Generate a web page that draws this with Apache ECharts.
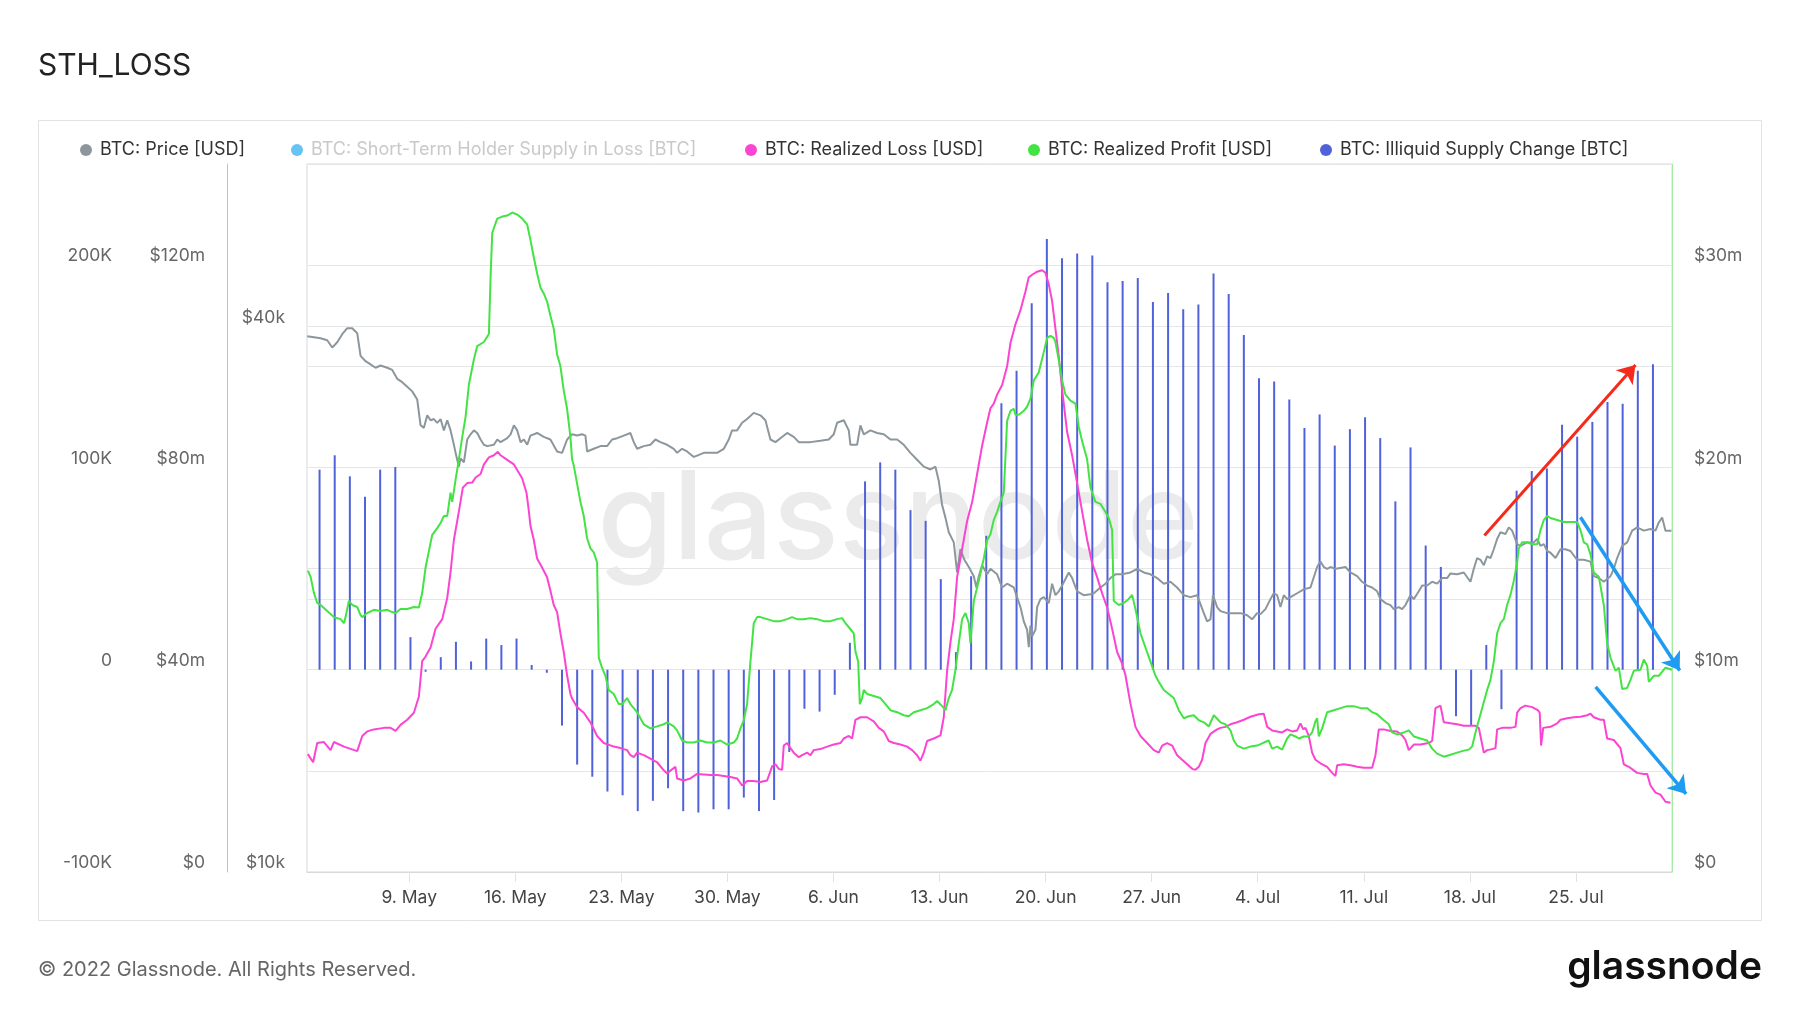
<!DOCTYPE html>
<html><head><meta charset="utf-8">
<script src="https://cdn.jsdelivr.net/npm/echarts@6/dist/echarts.min.js"></script>
<style>html,body{margin:0;padding:0;background:#fff}#c{width:1800px;height:1013px}</style>
</head><body><div id="c"></div>
<script>
// ---------------- DATA ----------------
// Day offsets are measured from 9 May 2022 00:00 (chart local time).
const tickDates = ['2022-05-09','2022-05-16','2022-05-23','2022-05-30','2022-06-06','2022-06-13','2022-06-20','2022-06-27','2022-07-04','2022-07-11','2022-07-18','2022-07-25'];
const tickLabels = ['9. May','16. May','23. May','30. May','6. Jun','13. Jun','20. Jun','27. Jun','4. Jul','11. Jul','18. Jul','25. Jul'];
const xRangeDays = [-6.745, 83.34];

// BTC: Price [USD], in $k : [dayOffset, price]
const priceK = [[-6.73,39.0],[-6.29,38.9],[-5.85,38.8],[-5.41,38.6],[-5.08,37.9],[-4.75,38.4],[-4.42,39.2],[-4.09,39.8],[-3.76,39.8],[-3.43,39.3],[-3.21,37.1],[-2.88,36.6],[-2.55,36.3],[-2.22,36.0],[-1.89,36.2],[-1.45,36.0],[-1.12,35.8],[-0.79,35.0],[-0.46,34.7],[-0.13,34.3],[0.20,33.9],[0.53,33.2],[0.75,31.1],[0.97,30.9],[1.19,31.9],[1.41,31.5],[1.63,31.6],[1.85,31.3],[2.07,31.6],[2.29,30.7],[2.51,31.5],[2.73,30.7],[2.95,29.6],[3.06,29.0],[3.28,28.0],[3.39,28.6],[3.61,28.3],[3.83,30.0],[4.05,30.4],[4.27,30.7],[4.49,30.5],[4.71,30.0],[4.93,29.6],[5.15,29.5],[5.59,29.6],[5.81,30.0],[6.03,29.8],[6.47,30.1],[6.69,30.4],[6.91,31.1],[7.13,30.7],[7.35,29.8],[7.57,30.0],[7.79,29.6],
[8.0,30.3],[8.44,30.5],[8.88,30.2],[9.32,30.0],[9.76,29.1],[10.09,29.0],[10.42,30.0],[10.75,30.4],[11.08,30.3],[11.41,30.4],[11.63,30.3],[11.74,29.1],[12.18,29.3],[12.62,29.5],[13.06,29.5],[13.39,30.0],[13.72,30.1],[14.16,30.3],[14.60,30.5],[14.82,29.8],[15.04,29.3],[15.48,29.5],[15.92,29.6],[16.25,30.0],[16.58,29.8],[17.02,29.6],[17.46,29.3],[17.68,29.0],[18.01,29.3],[18.34,29.1],[18.78,28.7],[19.0,28.8],[19.44,29.0],[19.88,29.0],[20.32,29.0],[20.76,29.3],[21.09,30.0],[21.31,30.7],[21.64,30.7],[21.97,31.3],[22.30,31.6],[22.74,32.1],
[23.18,31.9],[23.51,31.5],[23.84,30.0],[24.17,29.8],[24.50,30.1],[24.94,30.5],[25.38,30.2],[25.71,29.8],[26.04,29.8],[26.48,29.8],[27.14,29.9],[27.69,30.0],[28.02,30.4],[28.24,31.3],[28.68,31.5],[29.01,30.7],[29.12,29.6],[29.56,29.6],[29.78,31.1],[30.0,30.4],[30.44,30.7],[30.88,30.5],[31.32,30.4],[31.76,30.0],[32.20,30.0],[32.64,29.6],[33.08,29.0],[33.52,28.5],[33.96,28.0],[34.40,27.8],[34.73,28.0],[34.95,27.0],[35.17,25.4],[35.39,24.6],[35.61,23.7],[35.94,23.1],[36.16,21.4],[36.38,22.7],[36.64,22.1],[36.93,21.7],[37.26,21.2],[37.43,20.6],[37.59,21.2],[37.81,21.8],[38.14,21.3],
[38.36,21.6],[38.80,21.3],[39.13,20.6],[39.46,20.8],[39.90,20.6],[40.34,19.6],[40.56,18.9],[40.78,18.5],[40.89,17.7],[41.0,18.7],[41.11,18.2],[41.33,18.5],[41.44,19.6],[41.66,20.0],[41.88,20.1],[42.21,19.8],[42.43,20.8],[42.65,20.2],[42.87,20.4],[43.09,20.7],[43.53,21.4],[43.75,21.1],[44.08,20.4],[44.52,20.2],[44.96,20.25],[45.18,20.3],[45.62,20.6],[45.95,20.8],[46.28,21.1],[46.61,21.3],[47.05,21.3],[47.60,21.4],[48.04,21.6],[48.48,21.4],[48.92,21.3],[49.36,21.1],[49.80,20.8],[50.24,20.9],[50.68,20.6],[51.12,20.2],[51.56,20.1],[52.0,20.2],[52.44,19.3],[52.66,18.9],[52.88,19.0],[53.05,20.2],[53.32,19.6],
[53.54,19.4],[53.98,19.3],[54.42,19.3],[54.86,19.3],[55.30,19.2],[55.63,19.0],[55.96,19.3],[56.18,19.25],[56.51,19.5],[56.84,20.0],[57.06,20.3],[57.28,20.2],[57.50,19.6],[57.72,20.2],[57.94,20.0],[58.16,20.1],[58.60,20.3],[59.04,20.5],[59.48,20.6],[59.92,21.7],[60.14,22.0],[60.36,21.7],[60.58,21.6],[60.80,21.7],[61.13,21.6],[61.46,21.65],[61.79,21.7],[62.12,21.4],[62.56,21.2],[62.89,20.9],[63.22,20.7],[63.55,20.6],[63.88,20.4],[64.10,20.0],[64.43,19.8],[64.76,19.7],[64.98,19.5],[65.31,19.6],[65.53,19.5],[65.75,19.7],[66.08,20.2],[66.30,20.0],[66.63,20.4],[66.85,20.7],[67.18,20.7],[67.51,20.9],[67.84,20.8],[68.17,21.1],[68.50,21.1],
[68.72,21.35],[69.16,21.3],[69.60,21.4],[70.04,20.9],[70.26,21.6],[70.48,22.2],[70.70,22.1],[70.92,21.8],[71.14,22.3],[71.36,22.2],[71.58,22.7],[71.80,23.3],[72.02,23.7],[72.35,23.6],[72.57,24.0],[72.79,23.8],[73.12,23.0],[73.34,22.9],[73.78,23.1],[74.22,23.1],[74.44,23.3],[74.66,22.9],[74.88,23.0],[75.10,22.6],[75.32,22.5],[75.65,22.2],[75.98,22.7],[76.31,22.7],[76.64,22.6],[77.08,22.1],[77.52,22.1],[77.96,22.0],[78.18,21.2],[78.51,21.1],[78.84,20.9],[79.28,21.2],[79.50,21.6],[79.72,22.2],[80.05,22.9],[80.38,23.1],[80.71,23.8],[81.04,24.0],[81.48,23.8],[81.92,23.9],[82.25,23.8],[82.47,24.3],[82.69,24.6],[82.91,23.8],[83.30,23.8]];

// BTC: Realized Loss [USD], in $m : [dayOffset, loss]
const realizedLossM = [[-6.69,23.3],[-6.34,21.7],[-6.07,25.5],[-5.63,25.7],[-5.30,24.5],[-5.19,24.1],[-4.97,25.7],[-4.31,24.8],[-3.43,23.9],[-3.10,26.9],[-2.77,27.8],[-2.33,28.2],[-1.67,28.5],[-1.23,28.5],[-0.90,27.9],[-0.57,29.1],[-0.13,30.1],[0.31,31.5],[0.64,34.7],[0.86,41.7],[1.08,42.6],[1.41,44.4],[1.74,48.1],[2.18,50.0],[2.51,54.2],[2.73,59.3],[2.95,65.7],[3.28,71.3],[3.54,76.0],[3.83,76.9],[4.16,77.0],[4.38,78.0],[4.71,78.7],[4.93,80.6],[5.26,82.0],[5.59,82.4],[5.85,83.1],[6.03,82.4],[6.47,81.5],[6.91,80.6],[7.46,77.8],[7.74,75.0],[7.90,71.3],
[8.0,68.5],[8.22,65.7],[8.44,62.0],[8.77,60.2],[9.10,58.3],[9.32,55.6],[9.54,52.8],[9.76,51.4],[9.98,47.2],[10.20,43.5],[10.42,38.9],[10.64,35.2],[10.75,34.3],[11.08,32.6],[11.52,31.5],[11.96,29.6],[12.40,26.9],[12.84,25.5],[13.50,24.8],[13.94,24.5],[14.38,24.1],[14.60,23.1],[14.82,22.7],[15.04,23.6],[15.48,23.1],[15.92,22.4],[16.36,21.7],[16.80,20.1],[17.02,19.5],[17.35,20.3],[17.57,20.8],[17.68,18.5],[18.12,18.1],[18.56,18.5],[19.0,19.4],[19.44,19.3],[19.88,19.2],[20.32,19.2],[20.76,19.0],[21.20,18.8],[21.64,18.5],[21.97,17.1],[22.30,18.0],[22.74,18.0],
[23.18,17.8],[23.62,18.1],[23.95,20.9],[24.17,21.3],[24.39,20.4],[24.61,20.2],[24.72,25.0],[24.94,25.5],[25.16,24.5],[25.38,23.6],[25.71,22.7],[25.93,23.1],[26.26,23.6],[26.48,23.1],[26.70,24.1],[27.14,24.3],[27.58,24.8],[28.02,25.2],[28.46,25.5],[28.68,26.4],[29.01,26.9],[29.23,26.4],[29.45,30.1],[29.78,30.6],[30.22,30.6],[30.66,29.8],[30.99,28.5],[31.32,27.8],[31.65,25.9],[31.98,25.5],[32.42,25.2],[32.86,24.8],[33.19,24.1],[33.52,23.1],[33.74,22.0],[33.96,23.6],[34.18,25.9],[34.62,26.4],[35.06,27.0],[35.28,30.6],[35.50,39.8],[35.72,45.4],[35.94,50.0],[36.16,58.3],[36.38,62.0],[36.60,65.7],[36.82,69.4],[37.15,73.1],[37.48,78.7],[37.81,84.3],[38.14,88.9],
[38.36,91.7],[38.58,92.6],[38.80,94.4],[39.13,96.3],[39.46,100.0],[39.68,104.6],[40.01,108.3],[40.34,111.1],[40.67,114.8],[40.89,117.6],[41.11,118.1],[41.44,118.7],[41.77,119.0],[41.99,118.5],[42.21,116.2],[42.43,112.9],[42.65,107.4],[42.87,101.9],[43.09,95.4],[43.42,87.0],[43.75,82.4],[44.08,76.9],[44.41,71.3],[44.74,65.7],[45.07,61.1],[45.40,58.3],[45.73,55.1],[46.06,52.3],[46.39,48.1],[46.72,43.5],[47.05,41.2],[47.27,38.9],[47.60,33.3],[47.93,28.7],[48.26,26.9],[48.70,25.5],[49.14,24.1],[49.47,23.6],[49.69,25.0],[50.02,25.5],[50.35,25.0],[50.68,23.1],[51.01,22.2],[51.34,21.3],[51.67,20.4],[51.89,20.2],[52.11,20.8],[52.33,22.2],[52.55,25.5],[52.88,27.3],[53.32,28.2],
[53.54,28.5],[53.87,28.7],[54.20,29.2],[54.64,29.6],[55.08,30.1],[55.52,30.7],[56.07,31.2],[56.40,31.3],[56.62,28.7],[56.95,28.0],[57.28,27.8],[57.61,27.6],[57.94,28.2],[58.27,27.8],[58.60,28.0],[58.82,29.4],[59.00,28.2],[59.15,28.5],[59.37,26.9],[59.59,23.6],[59.81,22.2],[60.14,21.5],[60.58,20.8],[60.91,19.6],[61.13,19.0],[61.24,21.1],[61.68,21.3],[62.12,21.1],[62.56,20.8],[63.00,20.6],[63.55,20.6],[63.77,23.1],[63.99,28.2],[64.32,28.2],[64.76,27.9],[65.20,27.8],[65.53,27.0],[65.75,26.1],[65.97,24.1],[66.30,25.2],[66.74,25.2],[67.29,25.5],[67.51,25.9],[67.73,32.4],[68.06,32.9],[68.28,29.6],
[68.72,29.4],[69.16,29.2],[69.60,28.9],[70.04,28.9],[70.37,28.9],[70.59,28.5],[70.70,26.9],[70.92,23.6],[71.14,24.1],[71.47,24.3],[71.69,24.5],[71.80,28.2],[72.13,28.5],[72.68,28.5],[73.01,28.7],[73.12,31.5],[73.34,32.4],[73.67,32.9],[74.11,32.6],[74.48,32.0],[74.61,31.5],[74.70,25.0],[74.84,28.5],[75.32,28.7],[75.76,29.4],[75.98,30.1],[76.42,30.4],[76.86,30.6],[77.30,30.7],[77.74,31.0],[77.96,31.3],[78.18,30.6],[78.62,30.1],[78.84,30.1],[79.06,26.4],[79.50,26.1],[79.94,24.5],[80.16,21.3],[80.49,20.8],[81.04,19.6],[81.48,19.4],[81.70,19.4],[81.92,17.1],[82.25,15.7],[82.58,15.3],[82.91,13.9],[83.24,13.7]];

// BTC: Realized Profit [USD], in $m : [dayOffset, profit]
const realizedProfitM = [[-6.69,14.9],[-6.51,14.6],[-6.29,13.8],[-6.07,13.3],[-5.85,13.2],[-5.41,12.9],[-4.97,12.6],[-4.53,12.5],[-4.31,12.3],[-4.20,12.6],[-3.98,13.4],[-3.76,13.2],[-3.43,13.1],[-3.21,12.7],[-3.10,12.6],[-2.77,12.8],[-2.33,12.96],[-1.89,12.9],[-1.45,12.96],[-1.12,12.85],[-0.90,12.8],[-0.57,13.0],[-0.13,13.0],[0.31,13.1],[0.64,13.08],[0.86,13.8],[1.08,15.05],[1.30,15.86],[1.52,16.67],[1.85,17.0],[2.07,17.25],[2.29,17.6],[2.51,17.6],[2.73,18.75],[2.84,18.3],[3.06,19.4],[3.28,20.4],[3.50,21.5],[3.72,22.5],[3.94,24.1],[4.27,25.35],[4.49,26.0],[4.93,26.2],[5.26,26.6],[5.37,29.4],[5.48,31.6],[5.81,32.3],[6.14,32.4],[6.47,32.45],[6.80,32.6],[7.13,32.5],[7.46,32.3],[7.79,32.0],
[8.0,31.25],[8.22,30.4],[8.44,29.6],[8.66,28.9],[8.88,28.6],[9.10,28.2],[9.32,27.5],[9.54,26.85],[9.76,25.6],[9.98,25.0],[10.20,23.8],[10.42,22.9],[10.64,21.5],[10.75,20.4],[10.86,20.1],[11.08,19.2],[11.30,18.3],[11.52,17.6],[11.74,16.5],[11.96,16.0],[12.18,15.8],[12.40,15.3],[12.51,10.6],[12.73,10.1],[12.95,9.7],[13.17,9.0],[13.50,8.8],[13.83,8.3],[14.05,8.3],[14.38,8.6],[14.60,8.3],[15.04,7.9],[15.48,7.3],[15.92,7.1],[16.36,7.2],[16.80,7.3],[17.02,7.4],[17.46,7.2],[17.68,7.0],[18.01,6.5],[18.34,6.4],[18.78,6.4],[19.22,6.5],[19.66,6.4],[20.10,6.4],[20.54,6.5],[20.98,6.3],[21.42,6.4],[21.64,6.6],[21.86,7.1],[22.08,7.5],[22.30,8.3],[22.52,10.4],[22.74,12.3],[22.96,12.6],
[23.18,12.6],[23.62,12.5],[24.06,12.4],[24.50,12.4],[24.94,12.5],[25.27,12.6],[25.60,12.5],[26.04,12.5],[26.48,12.55],[26.92,12.5],[27.36,12.4],[27.80,12.4],[28.24,12.5],[28.57,12.55],[28.79,12.3],[29.12,12.0],[29.34,11.8],[29.45,10.9],[29.63,10.4],[29.74,8.3],[29.89,8.6],[30.0,9.0],[30.22,8.8],[30.66,8.7],[31.10,8.6],[31.54,8.2],[31.76,8.0],[32.20,7.9],[32.64,7.75],[32.97,7.7],[33.30,7.9],[33.74,8.0],[34.18,8.1],[34.62,8.3],[34.84,8.45],[35.17,8.2],[35.39,8.0],[35.61,8.6],[35.83,9.0],[36.05,10.0],[36.27,11.3],[36.49,12.5],[36.71,12.8],[36.93,12.3],[37.04,11.3],[37.26,13.4],[37.59,14.4],[37.92,15.5],[38.14,16.4],
[38.36,16.7],[38.58,17.4],[38.80,17.8],[39.02,18.3],[39.24,18.75],[39.46,22.3],[39.68,22.8],[39.90,22.9],[40.01,22.6],[40.23,22.6],[40.56,22.8],[40.78,23.0],[41.00,23.4],[41.22,24.3],[41.55,24.7],[41.88,25.7],[42.10,26.4],[42.32,26.5],[42.54,26.4],[42.65,26.2],[42.87,25.3],[43.09,24.3],[43.31,23.6],[43.64,23.3],[43.97,23.15],[44.19,22.0],[44.41,21.3],[44.74,20.4],[44.96,19.0],[45.29,18.3],[45.62,18.2],[45.95,17.8],[46.17,17.5],[46.39,16.9],[46.50,13.4],[46.83,13.2],[47.16,13.3],[47.49,13.5],[47.71,13.7],[47.93,13.0],[48.26,11.8],[48.59,11.1],[48.92,10.4],[49.25,9.7],[49.47,9.4],[49.80,9.0],[50.13,8.8],[50.46,8.6],[50.79,8.0],[51.12,7.6],[51.45,7.7],[51.78,7.75],[52.11,7.5],[52.44,7.4],[52.77,7.2],[53.10,7.75],
[53.54,7.4],[53.87,7.3],[54.20,7.0],[54.42,6.5],[54.64,6.25],[55.08,6.1],[55.52,6.2],[55.96,6.25],[56.40,6.4],[56.73,6.5],[56.95,6.1],[57.28,6.2],[57.61,6.05],[57.94,6.6],[58.16,6.8],[58.49,6.7],[58.71,6.6],[59.04,6.7],[59.37,6.7],[59.59,6.9],[59.81,7.45],[59.92,7.6],[60.03,6.7],[60.25,7.1],[60.58,7.9],[61.02,8.0],[61.46,8.1],[61.90,8.2],[62.34,8.2],[62.78,8.1],[63.22,8.1],[63.55,7.9],[63.88,7.8],[64.32,7.5],[64.65,7.3],[64.87,6.9],[65.20,6.8],[65.64,6.9],[65.97,7.0],[66.30,6.7],[66.74,6.6],[67.18,6.5],[67.51,6.1],[67.84,5.85],[68.28,5.7],
[68.72,5.8],[69.16,5.9],[69.60,6.0],[69.93,6.05],[70.15,6.2],[70.37,6.9],[70.59,7.5],[70.81,8.1],[71.14,9.0],[71.36,9.5],[71.58,10.4],[71.80,11.8],[72.02,12.3],[72.24,12.5],[72.46,13.2],[72.68,13.7],[72.90,14.4],[73.12,15.3],[73.23,16.0],[73.45,16.3],[73.78,16.3],[74.11,16.2],[74.44,16.2],[74.66,16.9],[74.88,17.4],[75.10,17.6],[75.32,17.5],[75.76,17.4],[76.20,17.3],[76.64,17.3],[77.08,17.3],[77.30,16.9],[77.52,16.3],[77.74,16.2],[77.96,15.7],[78.18,14.8],[78.51,14.6],[78.84,13.2],[79.06,11.3],[79.28,10.6],[79.61,9.95],[79.83,10.1],[80.05,9.05],[80.38,9.1],[80.60,9.5],[80.82,9.95],[81.26,10.0],[81.48,10.5],[81.70,10.2],[81.81,9.4],[82.14,9.7],[82.47,9.7],[82.91,10.1],[83.35,10.0]];

// BTC: Illiquid Supply Change [BTC], in thousands, one value per day from 3 May 2022
const illiquidStart = '2022-05-03';
const illiquidChangeK = [98.9,106,95.6,85.5,98.9,100.2,16.1,-1,6.2,13.8,4.1,15.4,12.2,15.4,2.3,-1.5,-27.6,-46.9,-52.9,-60.2,-62.1,-69.9,-64.8,-58.6,-69.9,-70.6,-69,-69,-63.2,
-69.9,-64.4,-40.7,-19.3,-20.7,-12.4,13.3,93.1,102.5,98.9,78.9,73.6,44.8,8.7,46.2,66.2,131.7,147.8,181.1,212.9,203.4,205.7,204.8,191.5,192.2,193.6,181.8,186.2,178.2,180.5,
195.9,185.7,165.5,144.1,142.5,133.6,119.5,126.2,110.8,118.9,124.8,114.5,83.2,109.9,61.4,50.8,-23,-27.6,12.2,-19.5,88.5,98.2,99.5,121.1,115.2,122.5,132.4,131.5,147.8,151];

// Hand-drawn annotation arrows: [dayOffset, illiquid change K]
const arrowFrom = [[70.96,66.3],[77.30,75.4],[78.30,-8.5]];
const arrowTo = [[80.93,150.6],[83.85,-0.4],[84.27,-61.4]];
const arrowColors = ['#f52a1c','#1f9bf2','#1f9bf2'];

const seriesNames = ['BTC: Price [USD]','BTC: Short-Term Holder Supply in Loss [BTC]','BTC: Realized Loss [USD]','BTC: Realized Profit [USD]','BTC: Illiquid Supply Change [BTC]'];
const seriesColors = ['#8c979d','#66c4f2','#fb44d2','#44e344','#5062da'];

// ---------------- BUILD ----------------
const FONT = 'Inter, Roboto, "Open Sans", sans-serif';
const DAY = 86400000;
const BASE = Date.UTC(2022, 4, 9);
const dx = d => BASE + d * DAY;
const tickTs = tickDates.map(s => Date.parse(s + 'T00:00:00Z'));
const illStartTs = Date.parse(illiquidStart + 'T00:00:00Z');
const barData = illiquidChangeK.map((v, i) => [illStartTs + i * DAY + 2 * 3600000, v]);

const chart = echarts.init(document.getElementById('c'), null, {renderer: 'canvas'});
const legendLefts = [75, 286, 740, 1023, 1315];
const yLabel = {color: '#666', fontSize: 17.5, fontFamily: FONT, margin: 22, verticalAlign: 'bottom', lineHeight: 18};

const option = {
  animation: false,
  backgroundColor: '#ffffff',
  title: {text: 'STH_LOSS', left: 33, top: 46, textStyle: {fontFamily: FONT, fontSize: 30, fontWeight: 'normal', color: '#222'}},
  legend: seriesNames.map((n, i) => ({
    data: [{name: n, textStyle: i === 1 ? {color: '#c9c9c9'} : {}}],
    left: legendLefts[i], top: 136, icon: 'circle', itemWidth: 12, itemHeight: 12,
    selectedMode: false,
    textStyle: {fontFamily: FONT, fontSize: 18, color: '#333', padding: [0, 0, 0, 3]}
  })),
  grid: {left: 307, right: 128, top: 164, bottom: 141, show: true, borderColor: '#d9d9d9', borderWidth: 1},
  xAxis: {
    type: 'value', min: dx(xRangeDays[0]), max: dx(xRangeDays[1]),
    axisLine: {show: true, onZero: false, lineStyle: {color: '#d9d9d9'}},
    axisTick: {show: true, customValues: tickTs, length: 10, lineStyle: {color: '#e2e2e2'}},
    axisLabel: {customValues: tickTs, color: '#444', fontSize: 17.5, fontFamily: FONT, margin: 17,
      formatter: v => { const i = tickTs.findIndex(t => Math.abs(t - v) < 3600000); return i >= 0 ? tickLabels[i] : ''; }},
    splitLine: {show: false}
  },
  yAxis: [
    {type: 'value', position: 'left', offset: 173, min: -100, max: 250, interval: 50,
     axisLine: {show: false, onZero: false}, axisTick: {show: false},
     splitLine: {show: true, lineStyle: {color: '#e6e6e6'}},
     axisLabel: Object.assign({}, yLabel, {formatter: v => (Math.round(v) % 100 === 0) ? (v === 0 ? '0' : v + 'K') : ''})},
    {type: 'value', position: 'left', offset: 80, min: 0, max: 140, interval: 20,
     axisLine: {show: true, onZero: false, lineStyle: {color: '#f7a3e2', width: 1}}, axisTick: {show: false},
     splitLine: {show: false},
     axisLabel: Object.assign({}, yLabel, {formatter: v => (Math.round(v) % 40 === 0) ? ('$' + v + (v === 0 ? '' : 'm')) : ''})},
    {type: 'value', position: 'left', offset: 0, min: 4, max: Math.log10(60400), interval: Math.log10(2),
     axisLine: {show: false, onZero: false}, axisTick: {show: false},
     splitLine: {show: true, lineStyle: {color: '#e6e6e6'}},
     axisLabel: Object.assign({}, yLabel, {showMaxLabel: false,
       formatter: v => { const p = Math.round(Math.pow(10, v) / 1000); return (p === 10 || p === 40) ? '$' + p + 'k' : ''; }})},
    {type: 'value', position: 'right', offset: 0, min: 0, max: 35, interval: 5,
     axisLine: {show: true, onZero: false, lineStyle: {color: '#a5eba5', width: 1}}, axisTick: {show: false},
     splitLine: {show: false},
     axisLabel: Object.assign({}, yLabel, {formatter: v => (Math.round(v) % 10 === 0) ? ('$' + v + (v === 0 ? '' : 'm')) : ''})}
  ],
  series: [
    {name: seriesNames[4], type: 'bar', yAxisIndex: 0, barWidth: 2, data: barData,
     itemStyle: {color: seriesColors[4]}, silent: true},
    {name: seriesNames[0], type: 'line', yAxisIndex: 2, showSymbol: false, symbol: 'none', silent: true,
     data: priceK.map(p => [dx(p[0]), Math.log10(p[1] * 1000)]),
     lineStyle: {color: seriesColors[0], width: 2}, itemStyle: {color: seriesColors[0]}},
    {name: seriesNames[1], type: 'line', yAxisIndex: 0, data: [], showSymbol: false,
     lineStyle: {color: seriesColors[1]}, itemStyle: {color: seriesColors[1]}},
    {name: seriesNames[2], type: 'line', yAxisIndex: 1, showSymbol: false, symbol: 'none', silent: true,
     data: realizedLossM.map(p => [dx(p[0]), p[1]]),
     lineStyle: {color: seriesColors[2], width: 2}, itemStyle: {color: seriesColors[2]}},
    {name: seriesNames[3], type: 'line', yAxisIndex: 3, showSymbol: false, symbol: 'none', silent: true,
     data: realizedProfitM.map(p => [dx(p[0]), p[1]]),
     lineStyle: {color: seriesColors[3], width: 2}, itemStyle: {color: seriesColors[3]}},
    {name: 'annotations', type: 'lines', coordinateSystem: 'cartesian2d', xAxisIndex: 0, yAxisIndex: 0,
     clip: false, silent: true, symbol: ['none', 'arrow'], symbolSize: 17, z: 5,
     lineStyle: {width: 3, opacity: 1},
     data: arrowFrom.map((f, i) => ({
       coords: [[dx(f[0]), f[1]], [dx(arrowTo[i][0]), arrowTo[i][1]]],
       lineStyle: {color: arrowColors[i], width: i === 0 ? 3 : 3.5}
     }))}
  ],
  graphic: [
    {type: 'rect', z: -10, shape: {x: 38.5, y: 120.5, width: 1723, height: 800}, style: {fill: 'none', stroke: '#e3e3e3', lineWidth: 1}},
    {type: 'text', z: 0, x: 898, y: 522, style: {text: 'glassnode', fontSize: 122, fontWeight: 500, fontFamily: FONT, fill: '#ebebeb', textAlign: 'center', textVerticalAlign: 'middle', align: 'center', verticalAlign: 'middle'}},
    {type: 'text', x: 38, y: 970, style: {text: '© 2022 Glassnode. All Rights Reserved.', fontSize: 20, fontFamily: FONT, fill: '#666', textVerticalAlign: 'middle', verticalAlign: 'middle'}},
    {type: 'text', x: 1762, y: 967, style: {text: 'glassnode', fontSize: 39, fontWeight: 600, fontFamily: FONT, fill: '#111', textAlign: 'right', align: 'right', textVerticalAlign: 'middle', verticalAlign: 'middle'}}
  ]
};
chart.setOption(option);
</script>
</body></html>
